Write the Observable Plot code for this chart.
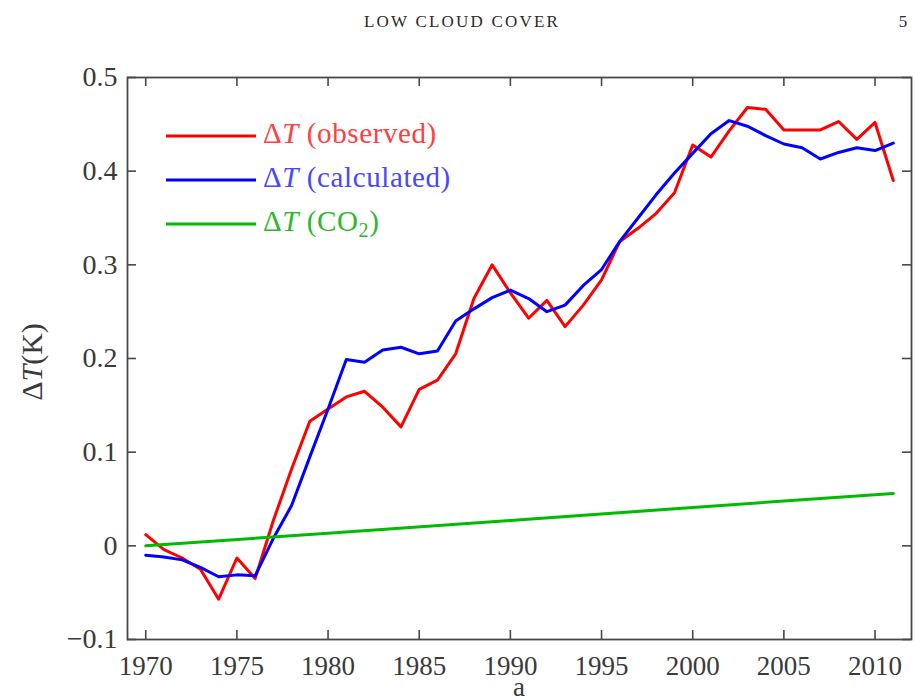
<!DOCTYPE html>
<html>
<head>
<meta charset="utf-8">
<script src="https://cdn.jsdelivr.net/npm/d3@7"></script>
<script src="https://cdn.jsdelivr.net/npm/@observablehq/plot@0.6"></script>
<style>
  html, body { margin: 0; padding: 0; background: #fff; }
  #chart svg { display: block; }
</style>
</head>
<body>
<div id="chart"></div>
<script>
// ---- data ----
const years = [1970,1971,1972,1973,1974,1975,1976,1977,1978,1979,
               1980,1981,1982,1983,1984,1985,1986,1987,1988,1989,
               1990,1991,1992,1993,1994,1995,1996,1997,1998,1999,
               2000,2001,2002,2003,2004,2005,2006,2007,2008,2009,
               2010,2011];
const observed = [0.012,-0.004,-0.013,-0.025,-0.057,-0.013,-0.035,0.027,0.082,0.133,
                  0.146,0.159,0.165,0.148,0.127,0.167,0.177,0.205,0.264,0.300,
                  0.270,0.243,0.262,0.234,0.257,0.284,0.325,0.339,0.355,0.377,
                  0.428,0.415,0.443,0.468,0.466,0.444,0.444,0.444,0.453,0.434,
                  0.452,0.390];
const calculated = [-0.010,-0.012,-0.015,-0.023,-0.033,-0.031,-0.032,0.008,0.043,0.095,
                    0.146,0.199,0.196,0.209,0.212,0.205,0.208,0.240,0.253,0.265,
                    0.273,0.264,0.250,0.257,0.278,0.295,0.325,0.350,0.375,0.398,
                    0.419,0.440,0.454,0.448,0.438,0.429,0.425,0.413,0.420,0.425,
                    0.422,0.430];
const co2Years = [1970, 1980, 1990, 2000, 2011];
const co2 = [0.000, 0.0135, 0.027, 0.041, 0.056];

const xTicks = [1970, 1975, 1980, 1985, 1990, 1995, 2000, 2005, 2010];
const xTickLabels = ["1970", "1975", "1980", "1985", "1990", "1995", "2000", "2005", "2010"];
const yTicks = [-0.1, 0, 0.1, 0.2, 0.3, 0.4, 0.5];
const yTickLabels = ["\u22120.1", "0", "0.1", "0.2", "0.3", "0.4", "0.5"];

const seriesNames = ["observed", "calculated", "CO2"];
const seriesColors = ["#ff0000", "#0000ff", "#00bb00"];
const seriesTextColors = ["#ff4040", "#4848ff", "#2cb82c"];

const headerText = "LOW CLOUD COVER";
const pageNumber = "5";
const xLabel = "a";

// ---- tables for Plot ----
const rows = years.map((year, i) => ({year, observed: observed[i], calculated: calculated[i]}));
const co2Rows = co2Years.map((year, i) => ({year, value: co2[i]}));

const W = 915, H = 697;
const mL = 127, mR = 4, mT = 77, mB = 58;
const frameW = W - mL - mR, frameH = H - mT - mB;
const tickLen = 9;
const axisColor = "#484848";

const chart = Plot.plot({
  width: W,
  height: H,
  marginLeft: mL,
  marginRight: mR,
  marginTop: mT,
  marginBottom: mB,
  style: {
    fontFamily: "'Liberation Serif', 'Times New Roman', serif",
    fontSize: "27px",
    color: "#3a3a3a",
    background: "#fff",
    overflow: "visible"
  },
  x: {domain: [1969, 2012], axis: null},
  y: {domain: [-0.1, 0.5], axis: null},
  marks: [
    // inward ticks on all four sides
    Plot.ruleX(xTicks, {x: d => d, insetTop: frameH - tickLen, stroke: axisColor, strokeWidth: 1.6}),
    Plot.ruleX(xTicks, {x: d => d, insetBottom: frameH - tickLen, stroke: axisColor, strokeWidth: 1.6}),
    Plot.ruleY(yTicks, {y: d => d, insetRight: frameW - tickLen, stroke: axisColor, strokeWidth: 1.6}),
    Plot.ruleY(yTicks, {y: d => d, insetLeft: frameW - tickLen, stroke: axisColor, strokeWidth: 1.6}),
    Plot.frame({stroke: axisColor, strokeWidth: 1.8}),
    Plot.axisX(xTicks, {tickSize: 0, tickPadding: 16, label: null, fontSize: 27,
                        tickFormat: d => xTickLabels[xTicks.indexOf(d)]}),
    Plot.axisY(yTicks, {tickSize: 0, tickPadding: 10, label: null, fontSize: 28,
                        tickFormat: d => yTickLabels[yTicks.indexOf(d)]}),
    Plot.line(rows, {x: "year", y: "observed", stroke: seriesColors[0], strokeWidth: 3}),
    Plot.line(rows, {x: "year", y: "calculated", stroke: seriesColors[1], strokeWidth: 3}),
    Plot.line(co2Rows, {x: "year", y: "value", stroke: seriesColors[2], strokeWidth: 3})
  ]
});

document.getElementById("chart").appendChild(chart);

// ---- texts with mixed styles: header, axis labels, legend ----
const svg = d3.select(chart);
const serif = "'Liberation Serif', 'Times New Roman', serif";

svg.append("text")
  .attr("x", 462).attr("y", 27)
  .attr("text-anchor", "middle")
  .attr("fill", "#2a2a2a")
  .style("font-family", serif)
  .style("font-size", "17px")
  .style("letter-spacing", "2.2px")
  .text(headerText);

svg.append("text")
  .attr("x", 903).attr("y", 27)
  .attr("text-anchor", "middle")
  .attr("fill", "#2a2a2a")
  .style("font-family", serif)
  .style("font-size", "17px")
  .text(pageNumber);

// y-axis label ΔT(K)
const yl = svg.append("text")
  .attr("transform", "translate(42,362) rotate(-90)")
  .attr("text-anchor", "middle")
  .attr("fill", "#3a3a3a")
  .style("font-family", serif)
  .style("font-size", "30px");
yl.append("tspan").text("\u0394");
yl.append("tspan").attr("font-style", "italic").text("T");
yl.append("tspan").text("(K)");

// x-axis label
svg.append("text")
  .attr("x", mL + frameW / 2).attr("y", 696)
  .attr("text-anchor", "middle")
  .attr("fill", "#3a3a3a")
  .style("font-family", serif)
  .style("font-size", "27px")
  .text(xLabel);

// legend
const leg = svg.append("g");
seriesNames.forEach((name, i) => {
  const cy = 136 + i * 44;
  leg.append("line")
    .attr("x1", 166).attr("x2", 256)
    .attr("y1", cy).attr("y2", cy)
    .attr("stroke", seriesColors[i]).attr("stroke-width", 3);
  const t = leg.append("text")
    .attr("x", 263).attr("y", cy + 7)
    .attr("text-anchor", "start")
    .attr("fill", seriesTextColors[i])
    .style("font-family", serif)
    .style("font-size", "29px")
    .style("letter-spacing", "0.6px");
  t.append("tspan").text("\u0394");
  t.append("tspan").attr("font-style", "italic").text("T");
  if (name === "CO2") {
    t.append("tspan").text(" (CO");
    t.append("tspan").attr("dy", 6).style("font-size", "20px").text("2");
    t.append("tspan").attr("dy", -6).text(")");
  } else {
    t.append("tspan").text(" (" + name + ")");
  }
});
</script>
</body>
</html>
